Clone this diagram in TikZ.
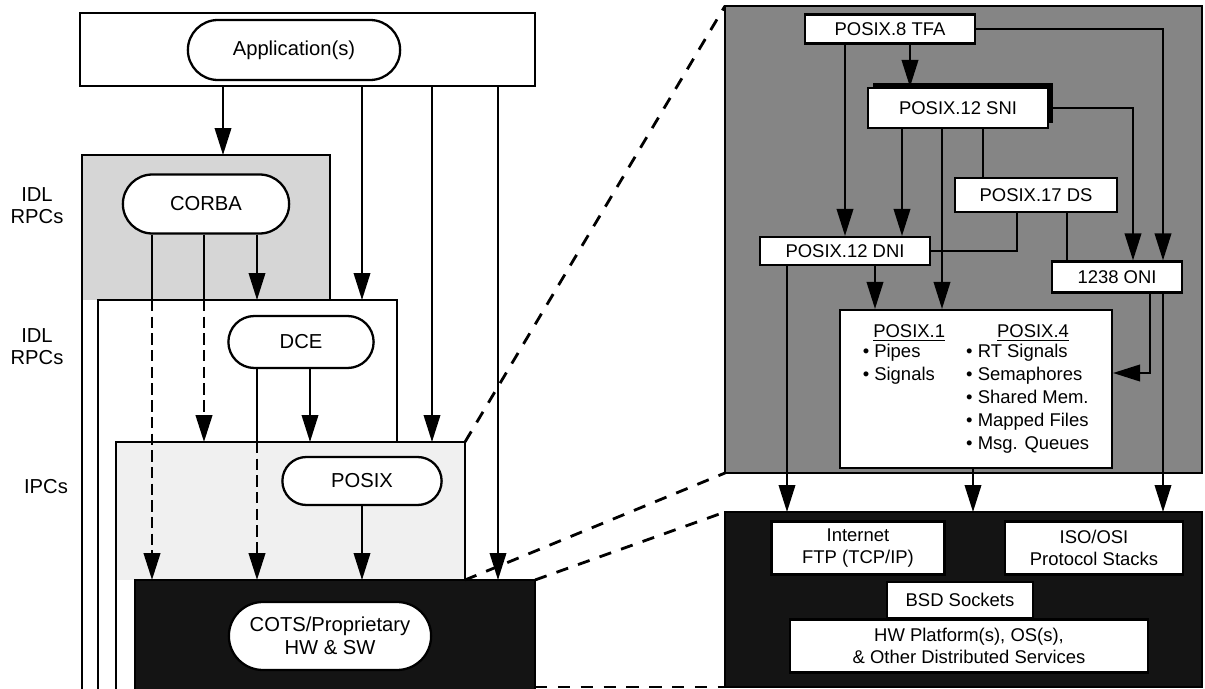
\documentclass[tikz,border=0pt]{standalone}
\usepackage{fontspec}
\setmainfont{Liberation Sans}
\usetikzlibrary{arrows.meta,positioning,shapes.misc,fit,calc,shadows}
\definecolor{corbafill}{gray}{0.84}
\definecolor{posixfill}{gray}{0.94}
\definecolor{panelfill}{gray}{0.52}
\definecolor{darkfill}{gray}{0.08}
\tikzset{
  layerbox/.style={inner sep=0pt, outer sep=0pt},
  rim/.style={line width=1.2pt},
  pill/.style={rounded rectangle, draw, line width=1.3pt, fill=white, align=center,
               font=\fontsize{11.5}{13}\selectfont},
  stdbox/.style={draw, line width=1.2pt, fill=white, inner sep=0pt, align=center,
                 font=\fontsize{10.5}{12.5}\selectfont},
  flow/.style={-{Triangle[length=5.4mm,width=3.3mm]}, line width=1.2pt},
  passdash/.style={dash pattern=on 6.5pt off 3pt, line width=1.5pt},
  zoomline/.style={dash pattern=on 7pt off 6pt, line width=1.6pt},
  sidelabel/.style={font=\fontsize{11.5}{12.5}\selectfont, align=center}
}
\begin{document}
\begin{tikzpicture}[x=0.02cm, y=-0.02cm]
  \useasboundingbox (0,0) rectangle (1205,689);
  \clip (0,0) rectangle (1205,689);

  % columns of the connectors
  \coordinate (colA) at (152,0);
  \coordinate (colB) at (204,0);
  \coordinate (colC) at (257,0);
  \coordinate (colD) at (310,0);
  \coordinate (colE) at (362,0);
  \coordinate (colF) at (432,0);
  \coordinate (colG) at (498,0);
  \coordinate (colH) at (223,0);
  \coordinate (rowA) at (787,0);
  \coordinate (rowB) at (845,0);
  \coordinate (rowC) at (875,0);
  \coordinate (rowD) at (902,0);
  \coordinate (rowE) at (910,0);
  \coordinate (rowF) at (942,0);
  \coordinate (rowG) at (973,0);
  \coordinate (rowH) at (983,0);
  \coordinate (rowI) at (1017,0);
  \coordinate (rowJ) at (1067,0);
  \coordinate (rowK) at (1133,0);
  \coordinate (rowL) at (1150,0);
  \coordinate (rowM) at (1163,0);
  \coordinate (onitap) at (0,373);

  % left stack
  \node[layerbox, draw, rim, fill=white, fit={(80,13) (535,86)}] (appbox) {};
  \node[pill, minimum width=4.48cm, minimum height=1.2cm] (app) at (294,50) {Application(s)};

  \node[layerbox, fit={(82,155) (330,720)}] (corbabox) {};
  \node[layerbox, fit={(98,300) (397,720)}] (dcebox) {};
  \node[layerbox, fit={(116,442) (465,720)}] (posixbox) {};
  \node[layerbox, fit={(135,580) (535,720)}] (cotsbox) {};

  \fill[corbafill] (corbabox.north west) rectangle (corbabox.east |- dcebox.north);
  \fill[posixfill] (posixbox.north west) rectangle (posixbox.east |- cotsbox.north);
  \fill[darkfill] (cotsbox.north west) rectangle (cotsbox.south east);
  \draw[rim] (corbabox.south west) |- (corbabox.north east) -- (corbabox.east |- dcebox.north);
  \draw[rim] (dcebox.south west) |- (dcebox.north east) -- (dcebox.east |- posixbox.north);
  \draw[rim] (posixbox.south west) |- (posixbox.north east) -- (posixbox.east |- cotsbox.north);
  \draw[rim] (cotsbox.south west) |- (cotsbox.north east) -- (cotsbox.south east);

  \node[pill, minimum width=3.56cm, minimum height=1.18cm] (corba) at (206,204) {CORBA};
  \node[pill, minimum width=3.14cm, minimum height=1.04cm] (dce) at (301,342) {DCE};
  \node[pill, minimum width=3.42cm, minimum height=0.96cm] (posix) at (362,481) {POSIX};
  \node[pill, minimum width=4.28cm, minimum height=1.36cm] (cots) at (330,636) {COTS/Proprietary\\HW \& SW};

  \node[sidelabel] (lblcorba) at (37,206) {IDL\\RPCs};
  \node[sidelabel] (lbldce) at (37,347) {IDL\\RPCs};
  \node[sidelabel] (lblposix) at (46,487) {IPCs};

  \draw[flow] (appbox.south -| colH) -- (corbabox.north -| colH);
  \draw[flow] (appbox.south -| colE) -- (dcebox.north -| colE);
  \draw[flow] (appbox.south -| colF) -- (posixbox.north -| colF);
  \draw[flow] (appbox.south -| colG) -- (cotsbox.north -| colG);

  \draw[rim] (corba.south -| colA) -- (dcebox.north -| colA);
  \draw[flow, passdash] (dcebox.north -| colA) -- (cotsbox.north -| colA);
  \draw[rim] (corba.south -| colB) -- (dcebox.north -| colB);
  \draw[flow, passdash] (dcebox.north -| colB) -- (posixbox.north -| colB);
  \draw[flow] (corba.south -| colC) -- (dcebox.north -| colC);
  \draw[rim] (dce.south -| colC) -- (posixbox.north -| colC);
  \draw[flow, passdash] (posixbox.north -| colC) -- (cotsbox.north -| colC);
  \draw[flow] (dce.south -| colD) -- (posixbox.north -| colD);
  \draw[flow] (posix.south -| colE) -- (cotsbox.north -| colE);

  % right panel, upper part
  \node[layerbox, draw, rim, fill=panelfill, fit={(725,6) (1202,473)}] (panel) {};
  \node[stdbox, minimum width=3.4cm, minimum height=0.58cm] (tfa) at (890,29) {POSIX.8 TFA};
  \node[stdbox, minimum width=3.6cm, minimum height=0.8cm,
        drop shadow={shadow xshift=0.1cm, shadow yshift=0.1cm, fill=black, opacity=1}]
        (sni) at (958,108) {POSIX.12 SNI};
  \node[stdbox, minimum width=3.24cm, minimum height=0.68cm] (ds) at (1036,195) {POSIX.17 DS};
  \node[stdbox, minimum width=3.4cm, minimum height=0.56cm] (dni) at (845,251) {POSIX.12 DNI};
  \node[stdbox, minimum width=2.6cm, minimum height=0.62cm] (oni) at (1117,277) {1238 ONI};
  \node[stdbox, minimum width=5.44cm, minimum height=3.16cm, font=\fontsize{10.5}{13.2}\selectfont]
        (p14) at (976,389) {%
    \begin{tabular}{@{}l@{\hspace{1.7em}}l@{}}
      \multicolumn{1}{@{}c}{\underline{POSIX.1}} & \multicolumn{1}{c@{}}{\underline{POSIX.4}}\\[-2pt]
      \textbullet\ Pipes   & \textbullet\ RT Signals\\
      \textbullet\ Signals & \textbullet\ Semaphores\\
                           & \textbullet\ Shared Mem.\\
                           & \textbullet\ Mapped Files\\
                           & \textbullet\ Msg. Queues
    \end{tabular}};

  \draw[flow] (tfa.east) -| (oni.north -| rowM);
  \draw[flow] (tfa.south -| rowB) -- (dni.north -| rowB);
  \draw[flow] (tfa.south -| rowE) -- (sni.north -| rowE);
  \draw[flow] (sni.east) -| (oni.north -| rowK);
  \draw[flow] (sni.south -| rowD) -- (dni.north -| rowD);
  \draw[flow] (sni.south -| rowF) -- (p14.north -| rowF);
  \draw[rim] (sni.south -| rowH) -- (ds.north -| rowH);
  \draw[rim] (ds.south -| rowI) |- (dni.east);
  \draw[rim] (ds.south -| rowJ) -- (oni.north -| rowJ);
  \draw[flow] (oni.south -| rowL) |- (p14.east |- onitap);
  \draw[flow] (dni.south -| rowC) -- (p14.north -| rowC);

  % right panel, lower part
  \node[layerbox, draw, rim, fill=darkfill, fit={(725,512) (1202,687)}] (lowbox) {};
  \node[stdbox, minimum width=3.46cm, minimum height=1.06cm] (inet) at (858,548) {Internet\\FTP (TCP/IP)};
  \node[stdbox, minimum width=3.56cm, minimum height=1.06cm] (iso) at (1094,548) {ISO/OSI\\Protocol Stacks};
  \node[stdbox, minimum width=2.92cm, minimum height=0.72cm] (bsd) at (960,600) {BSD Sockets};
  \node[stdbox, minimum width=7.16cm, minimum height=1.06cm] (hw) at (969,646)
        {HW Platform(s), OS(s),\\\& Other Distributed Services};

  \draw[flow] (dni.south -| rowA) -- (lowbox.north -| rowA);
  \draw[flow] (p14.south -| rowG) -- (lowbox.north -| rowG);
  \draw[flow] (oni.south -| rowM) -- (lowbox.north -| rowM);

  % zoom lines
  \draw[zoomline] (posixbox.north east) -- (panel.north west);
  \draw[zoomline] (posixbox.east |- cotsbox.north) -- (panel.south west);
  \draw[zoomline] (cotsbox.north east) -- (lowbox.north west);
  \draw[zoomline] (lowbox.south west -| cotsbox.east) -- (lowbox.south west);
\end{tikzpicture}
\end{document}
